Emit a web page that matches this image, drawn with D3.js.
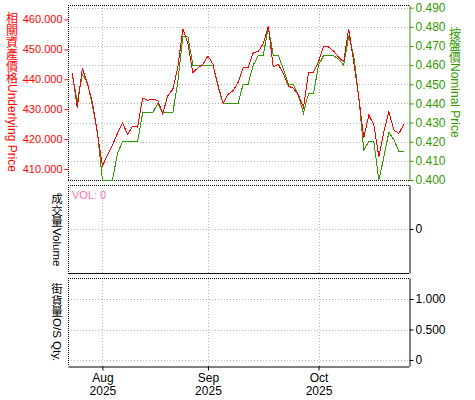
<!DOCTYPE html>
<html>
<head>
<meta charset="utf-8">
<script src="https://cdn.jsdelivr.net/npm/d3@7"></script>
<style>
  body { margin: 0; background: #fff; }
  svg { display: block; font-family: "Liberation Sans", Arial, sans-serif; }
  .vtitle { writing-mode: vertical-rl; text-orientation: mixed; }
</style>
</head>
<body>
<svg id="chart" width="475" height="400"></svg>
<script>
// trading days from 24 Jul to 28 Oct 2025 (HK holidays left out)
const startDay = "2025-07-24", endDay = "2025-10-28";
const holidays = ["2025-10-01", "2025-10-07"];

// underlying price (left axis, red)
const underlying = [
  442.1, 430.5, 443.6, 438.6, 432.4, 422.0, 411.0, 414.7, 418.0, 421.9,
  425.4, 421.6, 424.3, 424.0, 433.7, 433.0, 433.2, 433.0, 428.5, 434.5,
  436.6, 444.0, 456.8, 452.0, 442.2, 443.8, 445.0, 447.8, 445.0, 438.0,
  431.9, 435.0, 436.2, 439.0, 443.8, 444.0, 448.8, 449.3, 451.9, 457.7,
  444.1, 445.0, 441.9, 437.7, 437.0, 434.7, 430.6, 442.1, 442.4, 445.8,
  451.1, 450.8, 449.4, 447.4, 445.8, 456.9, 445.8, 434.0, 420.5, 428.0,
  424.8, 414.1, 422.4, 429.1, 423.0, 421.9, 425.0
];
// warrant nominal price (right axis, green)
const nominal = [
  0.455, 0.441, 0.455, 0.451, 0.439, 0.425, 0.400, 0.400, 0.400, 0.414,
  0.420, 0.420, 0.420, 0.420, 0.435, 0.435, 0.435, 0.440, 0.435, 0.435,
  0.435, 0.451, 0.475, 0.475, 0.460, 0.460, 0.460, 0.460, 0.460, 0.449,
  0.440, 0.440, 0.440, 0.440, 0.450, 0.450, 0.460, 0.465, 0.465, 0.480,
  0.465, 0.465, 0.458, 0.450, 0.450, 0.444, 0.435, 0.445, 0.445, 0.460,
  0.465, 0.465, 0.465, 0.463, 0.460, 0.475, 0.465, 0.4435, 0.4157, 0.420,
  0.420, 0.400, 0.412, 0.425, 0.421, 0.415, 0.415
];

const leftTicks = [410, 420, 430, 440, 450, 460];
const rightTicks = [0.400, 0.410, 0.420, 0.430, 0.440, 0.450, 0.460, 0.470, 0.480, 0.490];
const volTicks = [0];
const osTicks = [0, 0.5, 1];

const parse = d3.timeParse("%Y-%m-%d"), fmtDay = d3.timeFormat("%Y-%m-%d");
const days = d3.timeDay.range(parse(startDay), d3.timeDay.offset(parse(endDay), 1))
  .filter(d => d.getDay() !== 0 && d.getDay() !== 6 && !holidays.includes(fmtDay(d)));

const svg = d3.select("#chart");
const L = 68, R = 409;
const main = {top: 5, bottom: 180}, vol = {top: 185, bottom: 273}, os = {top: 278, bottom: 366};

const x = d3.scaleLinear().domain([-0.85, 67]).range([L, R]);
const yL = d3.scaleLinear().domain([406.33, 464.83]).range([main.bottom, main.top]);
const yR = d3.scaleLinear().domain([0.400, 0.4914]).range([main.bottom, main.top]);
const yV = d3.scaleLinear().domain([-1, 1]).range([vol.bottom, vol.top]);
const yO = d3.scaleLinear().domain([-0.098, 1.344]).range([os.bottom, os.top]);

// first trading day of each month
const monthIdx = [];
days.forEach((d, i) => { if (i > 0 && d.getMonth() !== days[i - 1].getMonth()) monthIdx.push(i); });

const grey = "#b4b4b4", red = "#ff0000", green = "#339900";

function panel(p, hTicks, yScale, gridEdge) {
  const g = svg.append("g");
  // horizontal grid
  g.selectAll(".hg").data(hTicks.filter(t => yScale(t) > p.top + 1 && yScale(t) < p.bottom - 1 || gridEdge))
    .enter().append("line")
    .attr("x1", L).attr("x2", R)
    .attr("y1", d => Math.round(yScale(d)) + 0.5).attr("y2", d => Math.round(yScale(d)) + 0.5)
    .attr("stroke", grey).attr("stroke-dasharray", "1,2");
  // vertical grid at month starts
  g.selectAll(".vg").data(monthIdx).enter().append("line")
    .attr("x1", d => Math.round(x(d)) + 0.5).attr("x2", d => Math.round(x(d)) + 0.5)
    .attr("y1", p.top).attr("y2", p.bottom)
    .attr("stroke", grey).attr("stroke-dasharray", "1,2");
  // dotted frame top and left
  g.append("line").attr("x1", L).attr("x2", R).attr("y1", p.top + 0.5).attr("y2", p.top + 0.5)
    .attr("stroke", "#000").attr("stroke-dasharray", "1,1");
  g.append("line").attr("x1", L + 0.5).attr("x2", L + 0.5).attr("y1", p.top).attr("y2", p.bottom)
    .attr("stroke", "#000").attr("stroke-dasharray", "1,1");
  return g;
}

// main panel
const gm = panel(main, rightTicks, yR, false);
gm.append("line").attr("x1", L).attr("x2", R).attr("y1", main.bottom + 0.5).attr("y2", main.bottom + 0.5)
  .attr("stroke", "#000").attr("stroke-dasharray", "1,1");

const line = (vals, ys) => d3.line().x((d, i) => x(i)).y(d => ys(d))(vals);
gm.append("path").attr("d", line(nominal, yR)).attr("fill", "none")
  .attr("stroke", green).attr("stroke-width", 1).attr("shape-rendering", "crispEdges");
gm.append("path").attr("d", line(underlying, yL)).attr("fill", "none")
  .attr("stroke", red).attr("stroke-width", 1).attr("shape-rendering", "crispEdges");

// left axis (red)
const axL = svg.append("g").attr("transform", `translate(${L + 0.5},0)`)
  .call(d3.axisLeft(yL).tickValues(leftTicks).tickFormat(d3.format(".3f")).tickSize(4).tickPadding(2));
axL.select(".domain").remove();
axL.selectAll("line").attr("stroke", red);
axL.selectAll("text").attr("fill", red).attr("font-size", 11).attr("font-family", "Liberation Sans");

// right axis (green)
const axR = svg.append("g").attr("transform", `translate(${R + 0.5},0)`)
  .call(d3.axisRight(yR).tickValues(rightTicks).tickFormat(d3.format(".3f")).tickSize(4).tickSizeOuter(0).tickPadding(2));
axR.select(".domain").attr("stroke", green);
axR.selectAll("line").attr("stroke", green);
axR.selectAll("text").attr("fill", green).attr("font-size", 12).attr("font-family", "Liberation Sans");

// volume panel
const gv = panel(vol, volTicks, yV, true);
gv.append("line").attr("x1", L).attr("x2", R).attr("y1", vol.bottom + 0.5).attr("y2", vol.bottom + 0.5).attr("stroke", "#000");
const axV = svg.append("g").attr("transform", `translate(${R + 0.5},0)`)
  .call(d3.axisRight(yV).tickValues(volTicks).tickFormat(d3.format("d")).tickSize(4).tickSizeOuter(0).tickPadding(2));
axV.selectAll("text").attr("font-size", 12).attr("font-family", "Liberation Sans");
svg.append("text").attr("x", 72).attr("y", 199).attr("fill", "#ff6eb4").attr("font-size", 11).text("VOL: 0");

// outstanding qty panel
const go = panel(os, osTicks, yO, true);
const axO = svg.append("g").attr("transform", `translate(${R + 0.5},0)`)
  .call(d3.axisRight(yO).tickValues(osTicks).tickFormat(d => d === 0 ? "0" : d3.format(".3f")(d)).tickSize(4).tickSizeOuter(0).tickPadding(2));
axO.selectAll("text").attr("font-size", 12).attr("font-family", "Liberation Sans");

// x axis
const axX = svg.append("g").attr("transform", `translate(0,${os.bottom + 0.5})`)
  .call(d3.axisBottom(x).tickValues(monthIdx).tickSize(4).tickSizeOuter(0).tickFormat(() => ""));
axX.selectAll(".tick").each(function(d) {
  const t = d3.select(this).select("text").attr("font-size", 12).attr("font-family", "Liberation Sans").attr("fill", "#000").attr("dy", null).attr("y", 15);
  t.append("tspan").attr("x", 0).text(d3.timeFormat("%b")(days[d]));
  t.append("tspan").attr("x", 0).attr("dy", 13).text(d3.timeFormat("%Y")(days[d]));
});

// axis titles, vertical writing: CJK upright, latin turned
function vlabel(cx, top, color, cjk, latin, size) {
  const t = svg.append("text").attr("class", "vtitle")
    .attr("x", cx).attr("y", top).attr("fill", color).attr("font-size", size)
    .attr("font-family", "Noto Sans CJK TC");
  t.append("tspan").text(cjk);
  t.append("tspan").attr("font-family", "Liberation Sans").text(latin);
}
vlabel(12, 12, red, "相關資產價格", "Underlying Price", 12);
vlabel(455, 27, green, "按盤價", "Nominal Price", 12);
vlabel(57, 193, "#000", "成交量", "Volume", 11.5);
vlabel(57, 283, "#000", "街貨量", "O/S Qty.", 11.5);
</script>
</body>
</html>
